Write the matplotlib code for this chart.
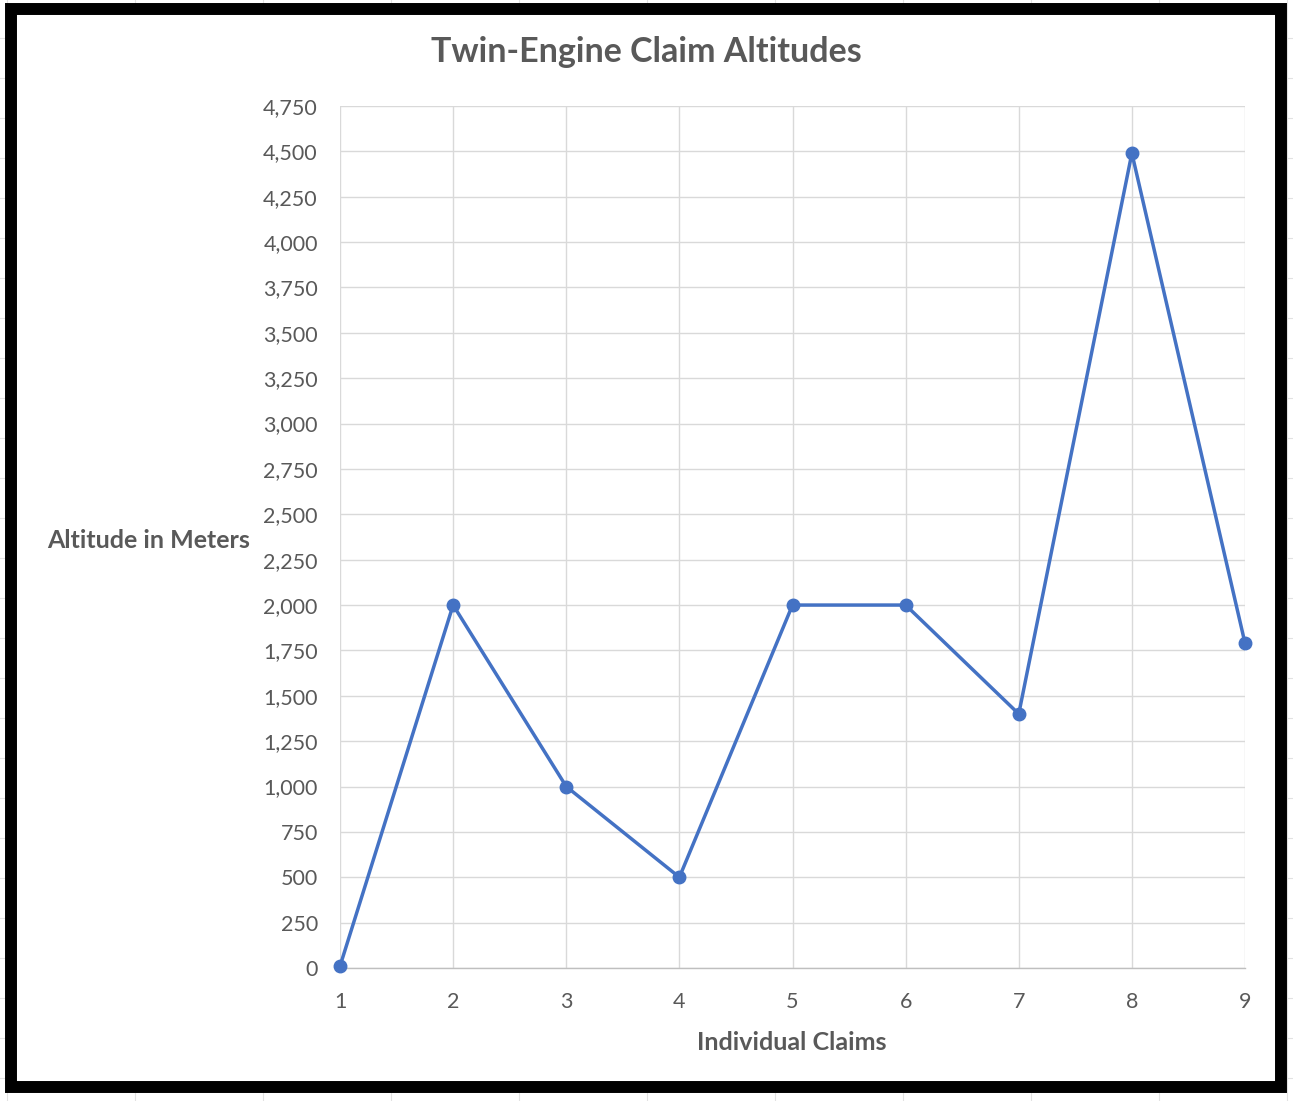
import matplotlib.pyplot as plt
import matplotlib.ticker as ticker
from matplotlib.lines import Line2D
from matplotlib.patches import Rectangle
import numpy as np

claims = [1, 2, 3, 4, 5, 6, 7, 8, 9]
altitudes = [10, 2000, 1000, 500, 2000, 2000, 1400, 4490, 1790]

W, H = 1293, 1101
gray_txt = '#595959'
line_blue = '#4472C4'

plt.rcParams['font.family'] = ['Lato', 'DejaVu Sans']

fig = plt.figure(figsize=(W / 100, H / 100), dpi=100)

# faint spreadsheet cells behind the chart
for xp in np.arange(7, W, 128):
    fig.add_artist(Line2D([xp / W, xp / W], [0, 1], color='#e2e2e2', lw=0.8, zorder=0))
for yp in np.arange(38, H, 40):
    fig.add_artist(Line2D([0, 1], [1 - yp / H, 1 - yp / H], color='#e2e2e2', lw=0.8, zorder=0))

# white chart area with thick black frame
fig.add_artist(Rectangle((11 / W, 1 - 1087 / H), 1270 / W, 1078 / H,
                         facecolor='white', edgecolor='black', lw=8.6, zorder=1))

ax = fig.add_axes([340 / W, 133 / H, 905 / W, 862 / H], zorder=2)
ax.set_facecolor('none')

ax.plot(claims, altitudes, color=line_blue, lw=2.5, marker='o', markersize=9,
        clip_on=False, zorder=5)

ax.set_xlim(1, 9)
ax.set_ylim(0, 4750)
ax.set_xticks(claims)
ax.yaxis.set_major_locator(ticker.MultipleLocator(250))
ax.yaxis.set_major_formatter(ticker.StrMethodFormatter('{x:,.0f}'))

ax.grid(True, color='#d9d9d9', lw=1.0)
ax.set_axisbelow(True)
for side in ['top', 'right', 'left']:
    ax.spines[side].set_visible(False)
ax.spines['bottom'].set_color('#bfbfbf')
ax.spines['bottom'].set_linewidth(1.0)

ax.tick_params(length=0, labelsize=15.5, labelcolor=gray_txt)
ax.tick_params(axis='y', pad=16)
ax.tick_params(axis='x', pad=17)

fig.text(646 / W, 1 - 52 / H, 'Twin-Engine Claim Altitudes', ha='center', va='center',
         fontsize=24.5, fontweight='bold', color=gray_txt)
fig.text(149 / W, 1 - 541 / H, 'Altitude in Meters', ha='center', va='center',
         fontsize=18, fontweight='bold', color=gray_txt)
fig.text(792 / W, 1 - 1042 / H, 'Individual Claims', ha='center', va='center',
         fontsize=18, fontweight='bold', color=gray_txt)

fig.savefig('out.png', dpi=100)
